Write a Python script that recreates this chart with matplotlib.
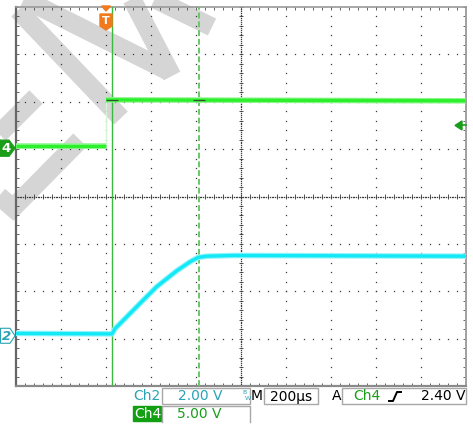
import numpy as np
import matplotlib
matplotlib.use('Agg')
import matplotlib.pyplot as plt
from matplotlib.patches import Polygon, Rectangle

# scope settings
time_per_div = 200      # us/div
ch2_scale = 2.0         # V/div
ch4_scale = 5.0         # V/div
ch2_pos = -2.94         # ground marker, div from centre
ch4_pos = 1.02
trig_time = 0           # us
trig_level = 2.40       # V on Ch4
cursor_a = 27           # us
cursor_b = 413          # us

# Ch4: step at the trigger
ch4_low_t = [-400, 0]
ch4_low_v = [0.25, 0.25]
ch4_high_t = [0, 1600]
ch4_high_v = [5.1, 5.0]

# Ch2: ramp after the trigger
ch2_t = [-400, 27, 40, 166, 225, 314, 373, 410, 448, 564, 1600]
ch2_v = [0.10, 0.08, 0.30, 1.51, 2.07, 2.74, 3.12, 3.31, 3.36, 3.39, 3.36]

ch2_text = '2.00 V'
ch4_text = '5.00 V'
time_text = '200µs'
trig_text = '%.2f V' % trig_level

TEAL = '#2aa3b4'
GREEN = '#1a9e1a'
TRACE4 = '#2cf02c'
TRACE2 = '#12e8f6'

W, H = 473, 426
fig = plt.figure(figsize=(W / 100, H / 100), dpi=100)

# watermark strokes behind everything (pixel coords)
bg = fig.add_axes([0, 0, 1, 1], zorder=0)
bg.set_xlim(0, W)
bg.set_ylim(H, 0)
bg.axis('off')
watermark = [
    [(18, 10), (121, 118)],
    [(18, -4), (168, 71)],
    [(124, -16), (172, 76)],
    [(122, -17), (212, 27)],
    [(-10, 143), (36, 97)],
    [(-8, 190), (13, 208), (80, 140)],
]
for pts in watermark:
    xs, ys = zip(*pts)
    bg.plot(xs, ys, color='#d5d5d5', lw=13.5, solid_capstyle='butt',
            solid_joinstyle='miter')

# graticule
gl, gr, gt, gb = 16, 466, 7, 386
ax = fig.add_axes([gl / W, 1 - gb / H, (gr - gl) / W, (gb - gt) / H], zorder=1)
ax.set_facecolor('none')
ax.set_xlim(-400, 1600)
ax.set_ylim(-4, 4)

xdiv = np.arange(-400, 1601, time_per_div)
ydiv = np.arange(-4, 5)
dot = dict(ls='none', marker='s', ms=0.9, mew=0, color='#3a3a3a')
yy = np.arange(-4, 4.01, 0.2)
xx = np.arange(-400, 1601, 40)
for x in xdiv[1:-1]:
    if x != 600:
        ax.plot(np.full(len(yy), x), yy, **dot)
for y in ydiv[1:-1]:
    if y != 0:
        ax.plot(xx, np.full(len(xx), y), **dot)
fx = np.arange(-400, 1601, 8)
fy = np.arange(-4, 4.01, 0.04)
ax.plot(fx, np.zeros(len(fx)), **dot)
ax.plot(np.full(len(fy), 600), fy, **dot)
ax.vlines(xx, -0.05, 0.05, color='#3a3a3a', lw=0.6)
ax.hlines(yy, 590, 610, color='#3a3a3a', lw=0.6)

ax.set_xticks(xdiv)
ax.set_xticks(xx, minor=True)
ax.set_yticks(ydiv)
ax.set_yticks(yy, minor=True)
ax.tick_params(which='both', direction='in', top=True, right=True,
               labelbottom=False, labelleft=False, color='#4a4a4a',
               length=2.5, width=0.6)
for side, c, w in [('left', '#666666', 1.6), ('bottom', '#8a8a8a', 1.6),
                   ('top', '#9a9a9a', 1.2), ('right', '#a0a0a0', 1.4)]:
    ax.spines[side].set_color(c)
    ax.spines[side].set_linewidth(w)


def ch4_div(v):
    return ch4_pos + np.asarray(v) / ch4_scale


def ch2_div(v):
    return ch2_pos + np.asarray(v) / ch2_scale


# cursors
ax.axvline(cursor_a, color='#3cb83c', lw=1.0, zorder=3)
ax.axvline(cursor_b, color='#66c866', lw=1.4, dashes=(3, 1.5), zorder=3)

# traces
ax.plot([trig_time, trig_time], [ch4_div(ch4_low_v[-1]), ch4_div(ch4_high_v[0])],
        color='#d2f5d2', lw=1.0, zorder=4)
for t, v in [(ch4_low_t, ch4_low_v), (ch4_high_t, ch4_high_v)]:
    ax.plot(t, ch4_div(v), color='#8cf58c', lw=4.0, solid_capstyle='butt', zorder=4)
    ax.plot(t, ch4_div(v), color=TRACE4, lw=2.4, solid_capstyle='butt', zorder=5)
ax.plot(ch2_t, ch2_div(ch2_v), color='#8ff4fb', lw=4.0, zorder=4)
ax.plot(ch2_t, ch2_div(ch2_v), color=TRACE2, lw=2.4, zorder=5)

# cursor crossing marks on Ch4
yc = float(ch4_div(np.mean(ch4_high_v)))
ax.hlines([yc, yc], [cursor_a - 27, cursor_b - 27],
          [cursor_a + 27, cursor_b + 27], color='#2f4f2f', lw=0.9, zorder=6)

# overlay: markers and readouts (pixel coords)
ov = fig.add_axes([0, 0, 1, 1], zorder=2)
ov.set_xlim(0, W)
ov.set_ylim(H, 0)
ov.axis('off')


def px(t):
    return gl + (t + 400) / 2000 * (gr - gl)


def py(d):
    return (gt + gb) / 2 - d * (gb - gt) / 8


# trigger position marker
tx = px(trig_time)
ov.add_patch(Polygon([(tx - 4.5, 6), (tx + 4.5, 6), (tx, 11)], color='#f07a1c'))
ov.add_patch(Polygon([(tx - 6, 14), (tx + 6, 14), (tx + 6, 26), (tx, 30), (tx - 6, 26)],
                     color='#f07a1c'))
ov.text(tx, 21, 'T', color='white', fontsize=8, fontweight='bold', ha='center', va='center')

# channel ground markers
y4 = py(ch4_pos)
ov.add_patch(Polygon([(0, y4 - 8), (9, y4 - 8), (15, y4), (9, y4 + 8), (0, y4 + 8)],
                     color=GREEN))
ov.text(6, y4 + 0.5, '4', color='white', fontsize=9.5, fontweight='bold',
        ha='center', va='center')
y2 = py(ch2_pos)
ov.add_patch(Polygon([(0.5, y2 - 7.5), (10, y2 - 7.5), (15, y2), (10, y2 + 7.5), (0.5, y2 + 7.5)],
                     facecolor='white', edgecolor=TEAL, lw=0.8))
ov.text(6.5, y2 + 0.5, '2', color=TEAL, fontsize=9.5, fontweight='bold', style='italic',
        ha='center', va='center')

# trigger level arrow
yt = py(ch4_div(trig_level))
ov.add_patch(Polygon([(455, yt), (462, yt - 4.5), (462, yt + 4.5)], color=GREEN))
ov.plot([461, 466], [yt, yt], color=GREEN, lw=1.2)

# readouts
fs = 10
box = dict(fill=False, edgecolor='#a8a8a8', lw=1.0)
ov.add_patch(Rectangle((162, 388), 88, 16, **box))
ov.add_patch(Rectangle((264, 388), 54, 16, **box))
ov.add_patch(Rectangle((342, 388), 124, 16, **box))
ov.plot([162, 162, 250, 250], [422, 406, 406, 422], color='#a8a8a8', lw=1.0)
ov.add_patch(Rectangle((133, 406), 28, 15, color='#12a012'))

ov.text(133, 396.5, 'Ch2', color=TEAL, fontsize=fs, va='center')
ov.text(178, 396.5, ch2_text, color=TEAL, fontsize=fs, va='center')
ov.text(242, 392.5, 'B', color=TEAL, fontsize=4.5, va='center')
ov.text(245, 398.5, 'W', color=TEAL, fontsize=4.5, va='center')
ov.text(251, 396.5, 'M', color='black', fontsize=fs, va='center')
ov.text(270, 396.5, time_text, color='black', fontsize=fs, va='center')
ov.text(332, 396.5, 'A', color='black', fontsize=fs, va='center')
ov.text(353, 396.5, 'Ch4', color=GREEN, fontsize=fs, va='center')
ov.plot([389, 393, 397, 401], [401, 401, 392, 392], color='black', lw=1.4)
ov.text(465, 396.5, trig_text, color='black', fontsize=fs, va='center', ha='right')
ov.text(134, 413.5, 'Ch4', color='white', fontsize=fs, va='center')
ov.text(177, 413.5, ch4_text, color=GREEN, fontsize=fs, va='center')

fig.savefig('out.png', dpi=100, facecolor='white')
